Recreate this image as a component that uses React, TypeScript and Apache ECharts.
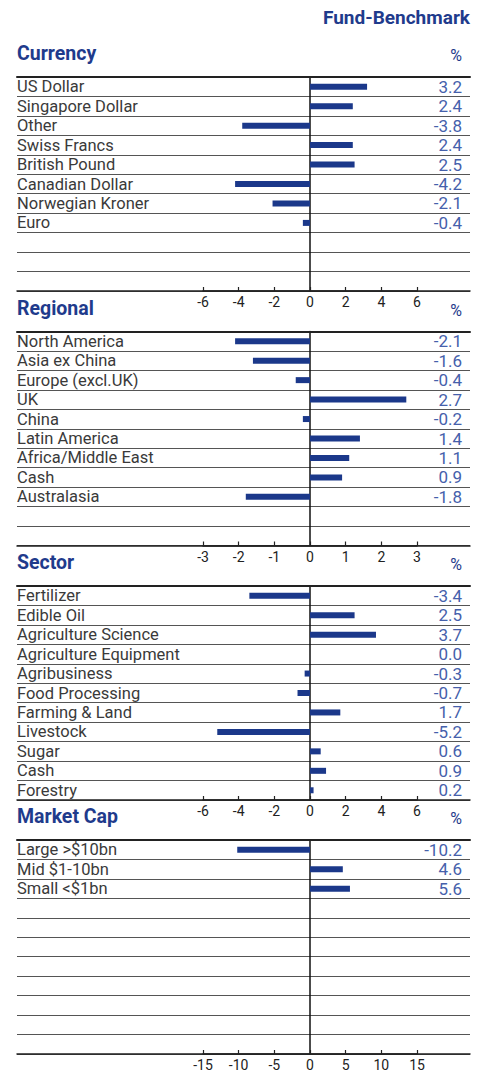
import React, { useEffect, useRef } from "react";
import * as echarts from "echarts";

const ROWS = 11;

const currencyLabels = ["US Dollar", "Singapore Dollar", "Other", "Swiss Francs", "British Pound", "Canadian Dollar", "Norwegian Kroner", "Euro"];
const currencyValues = [3.2, 2.4, -3.8, 2.4, 2.5, -4.2, -2.1, -0.4];
const currencyTicks = [-6, -4, -2, 0, 2, 4, 6];

const regionalLabels = ["North America", "Asia ex China", "Europe (excl.UK)", "UK", "China", "Latin America", "Africa/Middle East", "Cash", "Australasia"];
const regionalValues = [-2.1, -1.6, -0.4, 2.7, -0.2, 1.4, 1.1, 0.9, -1.8];
const regionalTicks = [-3, -2, -1, 0, 1, 2, 3];

const sectorLabels = ["Fertilizer", "Edible Oil", "Agriculture Science", "Agriculture Equipment", "Agribusiness", "Food Processing", "Farming & Land", "Livestock", "Sugar", "Cash", "Forestry"];
const sectorValues = [-3.4, 2.5, 3.7, 0.0, -0.3, -0.7, 1.7, -5.2, 0.6, 0.9, 0.2];
const sectorTicks = [-6, -4, -2, 0, 2, 4, 6];

const marketCapLabels = ["Large >$10bn", "Mid $1-10bn", "Small <$1bn"];
const marketCapValues = [-10.2, 4.6, 5.6];
const marketCapTicks = [-15, -10, -5, 0, 5, 10, 15];

const panelTitles = ["Currency", "Regional", "Sector", "Market Cap"];
const headerTitle = "Fund-Benchmark";

const panels = [
  { title: panelTitles[0], labels: currencyLabels, values: currencyValues, ticks: currencyTicks },
  { title: panelTitles[1], labels: regionalLabels, values: regionalValues, ticks: regionalTicks },
  { title: panelTitles[2], labels: sectorLabels, values: sectorValues, ticks: sectorTicks },
  { title: panelTitles[3], labels: marketCapLabels, values: marketCapValues, ticks: marketCapTicks },
];

// layout
const panelTops = [77, 331.5, 586, 840];
const panelHeight = 214;
const LEFT = 17;
const RIGHT_EDGE = 470;
const BAR_LEFT = 203;
const BAR_WIDTH = 214;

const BLUE = "#1f3b8c";
const BAR = "#1b388a";
const VAL = "#4560ab";
const FONT = "Roboto, 'Open Sans', sans-serif";

function pad(arr: string[]) {
  const out = arr.slice();
  while (out.length < ROWS) out.push("");
  return out;
}

export default function App() {
  const ref = useRef<HTMLDivElement>(null);
  useEffect(() => {
    if (!ref.current) return;
    const chart = echarts.init(ref.current, undefined, { renderer: "svg" });
    const grid: any[] = [];
    const xAxis: any[] = [];
    const yAxis: any[] = [];
    const series: any[] = [];
    const graphic: any[] = [
      {
        type: "text",
        style: {
          text: headerTitle, x: RIGHT_EDGE, y: 17, align: "right", verticalAlign: "middle",
          fill: BLUE, fontSize: 19, fontWeight: "bold", fontFamily: FONT,
        },
      },
    ];
    panels.forEach((p, i) => {
      const top = panelTops[i];
      const lo = p.ticks[0];
      const hi = p.ticks[p.ticks.length - 1];
      const step = p.ticks[1] - p.ticks[0];
      grid.push({ left: LEFT, width: RIGHT_EDGE - LEFT, top, height: panelHeight });
      grid.push({ left: BAR_LEFT, width: BAR_WIDTH, top, height: panelHeight });
      const gA = 2 * i, gB = 2 * i + 1;
      xAxis.push({
        gridIndex: gA, type: "value", min: 0, max: 1, position: "bottom",
        axisLine: { show: true, onZero: false, lineStyle: { color: "#222", width: 1.5 } },
        axisTick: { show: false }, axisLabel: { show: false }, splitLine: { show: false },
      });
      xAxis.push({
        gridIndex: gA, type: "value", min: 0, max: 1, position: "top",
        axisLine: { show: true, onZero: false, lineStyle: { color: "#222", width: 2 } },
        axisTick: { show: false }, axisLabel: { show: false }, splitLine: { show: false },
      });
      xAxis.push({
        gridIndex: gB, type: "value", min: lo, max: hi, interval: step, position: "bottom",
        axisLine: { show: true, onZero: false, lineStyle: { color: "#222", width: 1.5 } },
        axisTick: { show: true, inside: true, length: 4, lineStyle: { color: "#222", width: 1.2 } },
        axisLabel: { show: true, margin: 4, fontSize: 14, color: "#222", fontFamily: FONT },
        splitLine: { show: false },
      });
      yAxis.push({
        gridIndex: gA, type: "category", data: pad(p.labels), inverse: true, position: "left",
        axisLine: { show: false }, axisTick: { show: false },
        axisLabel: { show: true, interval: 0, inside: true, margin: 0, fontSize: 16.5, color: "#3a3a3a", fontFamily: FONT },
        splitLine: { show: true, interval: 0, lineStyle: { color: "#555", width: 1 } },
      });
      yAxis.push({
        gridIndex: gA, type: "category", data: pad(p.values.map((v) => v.toFixed(1))), inverse: true, position: "right",
        axisLine: { show: false }, axisTick: { show: false },
        axisLabel: { show: true, interval: 0, inside: true, margin: 8, fontSize: 17, color: VAL, fontFamily: FONT },
        splitLine: { show: false },
      });
      yAxis.push({
        gridIndex: gB, type: "category", data: pad(p.labels), inverse: true,
        axisLine: { show: true, onZero: true, lineStyle: { color: "#111", width: 1.5 } },
        axisTick: { show: false }, axisLabel: { show: false }, splitLine: { show: false },
      });
      series.push({
        type: "bar", xAxisIndex: 3 * i + 2, yAxisIndex: 3 * i + 2, data: p.values,
        barWidth: 6, itemStyle: { color: BAR }, silent: true,
      });
      graphic.push({
        type: "text",
        style: {
          text: p.title, x: LEFT, y: top - 23.5, align: "left", verticalAlign: "middle",
          fill: BLUE, fontSize: 19.5, fontWeight: "bold", fontFamily: FONT,
        },
      });
      graphic.push({
        type: "text",
        style: {
          text: "%", x: 462, y: top - 21.5, align: "right", verticalAlign: "middle",
          fill: BLUE, fontSize: 16, fontFamily: FONT,
        },
      });
    });
    chart.setOption({ animation: false, grid, xAxis, yAxis, series, graphic });
    return () => chart.dispose();
  }, []);
  return (
    <div
      ref={ref}
      style={{ position: "fixed", left: 0, top: 0, width: 486, height: 1072, background: "#fff" }}
    />
  );
}
